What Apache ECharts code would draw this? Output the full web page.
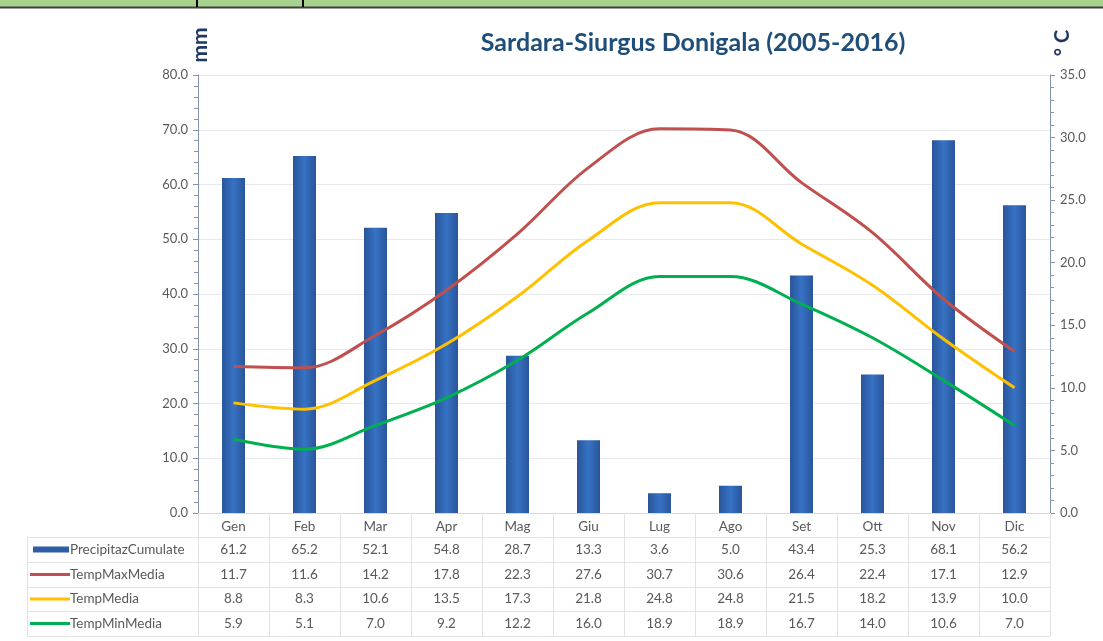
<!DOCTYPE html>
<html><head><meta charset="utf-8">
<script src="https://cdn.jsdelivr.net/npm/echarts@6/dist/echarts.min.js"></script>
<style>html,body{margin:0;padding:0;background:#fff}#c{width:1103px;height:641px}</style>
</head><body><div id="c"></div>
<script>
const months = ['Gen','Feb','Mar','Apr','Mag','Giu','Lug','Ago','Set','Ott','Nov','Dic'];
const precip = [61.2,65.2,52.1,54.8,28.7,13.3,3.6,5.0,43.4,25.3,68.1,56.2];
const tMax = [11.7,11.6,14.2,17.8,22.3,27.6,30.7,30.6,26.4,22.4,17.1,12.9];
const tMed = [8.8,8.3,10.6,13.5,17.3,21.8,24.8,24.8,21.5,18.2,13.9,10.0];
const tMin = [5.9,5.1,7.0,9.2,12.2,16.0,18.9,18.9,16.7,14.0,10.6,7.0];
const seriesNames = ['PrecipitazCumulate','TempMaxMedia','TempMedia','TempMinMedia'];
const titleText = 'Sardara-Siurgus Donigala (2005-2016)';

const FONT = 'Lato, "Open Sans", sans-serif';
const GRAY = '#595959';
const colors = ['#2e5ea6','#c0504d','#ffc000','#00b050'];

const chart = echarts.init(document.getElementById('c'), null, {renderer:'canvas'});
const option = {
  animation:false,
  backgroundColor:'#fff',
  title:{text:titleText,left:688,top:25,textAlign:'center',
    textStyle:{fontFamily:FONT,fontSize:25,fontWeight:'bold',color:'#1f4e79'}},
  grid:{left:198,right:53,top:75,bottom:128},
  xAxis:{type:'category',data:months,
    axisLine:{show:true,lineStyle:{color:'#d9d9d9',width:1}},
    axisTick:{show:true,interval:0,length:123,lineStyle:{color:'#e3e3e3'}},
    axisLabel:{fontFamily:FONT,fontSize:13.5,color:GRAY,margin:7}},
  yAxis:[
    {type:'value',min:0,max:80,interval:10,
     axisLine:{show:true,lineStyle:{color:'#8393ad'}},
     axisTick:{show:true,length:5,lineStyle:{color:'#8393ad'}},
     minorTick:{show:true,splitNumber:5,length:4,lineStyle:{color:'#8393ad'}},
     splitLine:{lineStyle:{color:'#e6e9ef'}},
     axisLabel:{fontFamily:FONT,fontSize:13,color:GRAY,margin:10,formatter:v=>v.toFixed(1)}},
    {type:'value',min:0,max:35,interval:5,
     axisLine:{show:true,lineStyle:{color:'#8393ad'}},
     axisTick:{show:true,length:5,lineStyle:{color:'#8393ad'}},
     minorTick:{show:true,splitNumber:5,length:4,lineStyle:{color:'#8393ad'}},
     splitLine:{show:false},
     axisLabel:{fontFamily:FONT,fontSize:13,color:GRAY,margin:10,formatter:v=>v.toFixed(1)}}
  ],
  series:[
    {name:seriesNames[0],type:'bar',data:precip,barWidth:23,
     itemStyle:{color:new echarts.graphic.LinearGradient(0,0,1,0,[
       {offset:0,color:'#2a559a'},{offset:0.5,color:'#3672c4'},{offset:1,color:'#2a559a'}])}},
    {name:seriesNames[1],type:'line',yAxisIndex:1,data:tMax,smooth:0.35,showSymbol:false,
     lineStyle:{color:colors[1],width:3},itemStyle:{color:colors[1]}},
    {name:seriesNames[2],type:'line',yAxisIndex:1,data:tMed,smooth:0.35,showSymbol:false,
     lineStyle:{color:colors[2],width:3},itemStyle:{color:colors[2]}},
    {name:seriesNames[3],type:'line',yAxisIndex:1,data:tMin,smooth:0.35,showSymbol:false,
     lineStyle:{color:colors[3],width:3},itemStyle:{color:colors[3]}}
  ]
};
chart.setOption(option);

// build the data table and decorations from the arrays using the chart's own scale
const rows = [precip,tMax,tMed,tMin];
const rowY = [549.5,574.5,599,623.5];
const lineY = [537,562,587,611,636];
const g = [];
const xR = chart.convertToPixel({xAxisIndex:0}, months.length-1) + 35.5;
// top green band
g.push({type:'rect',shape:{x:0,y:0,width:1103,height:7},style:{fill:'#a9d18e'},z:10});
g.push({type:'line',shape:{x1:0,y1:7.5,x2:1103,y2:7.5},style:{stroke:'#3f3f3f',lineWidth:2},z:10});
g.push({type:'line',shape:{x1:197,y1:0,x2:197,y2:7},style:{stroke:'#000',lineWidth:2},z:11});
g.push({type:'line',shape:{x1:303,y1:0,x2:303,y2:7},style:{stroke:'#000',lineWidth:2},z:11});
// axis name labels
g.push({type:'text',x:200,y:45,rotation:Math.PI/2,style:{text:'mm',font:'bold 21px '+FONT,fill:'#1f3864',align:'center',verticalAlign:'middle'}});
g.push({type:'text',x:1063,y:43,rotation:Math.PI/2,style:{text:'° C',font:'bold 20px '+FONT,fill:'#1f3864',align:'center',verticalAlign:'middle'}});
// horizontal table lines
lineY.forEach(y=>g.push({type:'line',shape:{x1:27,y1:y+0.5,x2:xR,y2:y+0.5},style:{stroke:'#e3e3e3',lineWidth:1}}));
g.push({type:'line',shape:{x1:27.5,y1:537,x2:27.5,y2:636},style:{stroke:'#e3e3e3',lineWidth:1}});
// legend keys and names
rows.forEach((r,ri)=>{
  const y = rowY[ri];
  if(ri===0){
    g.push({type:'rect',shape:{x:33,y:y-3,width:36,height:6},style:{fill:colors[0]}});
  } else {
    g.push({type:'line',shape:{x1:30,y1:y,x2:70,y2:y},style:{stroke:colors[ri],lineWidth:3}});
  }
  g.push({type:'text',x:70,y:y,style:{text:seriesNames[ri],font:'13.5px '+FONT,fill:GRAY,verticalAlign:'middle',align:'left'}});
  r.forEach((v,i)=>{
    const x = chart.convertToPixel({xAxisIndex:0}, months[i]);
    g.push({type:'text',x:x,y:y,style:{text:v.toFixed(1),font:'13.5px '+FONT,fill:GRAY,align:'center',verticalAlign:'middle'}});
  });
});
chart.setOption({graphic:g});
</script></body></html>
